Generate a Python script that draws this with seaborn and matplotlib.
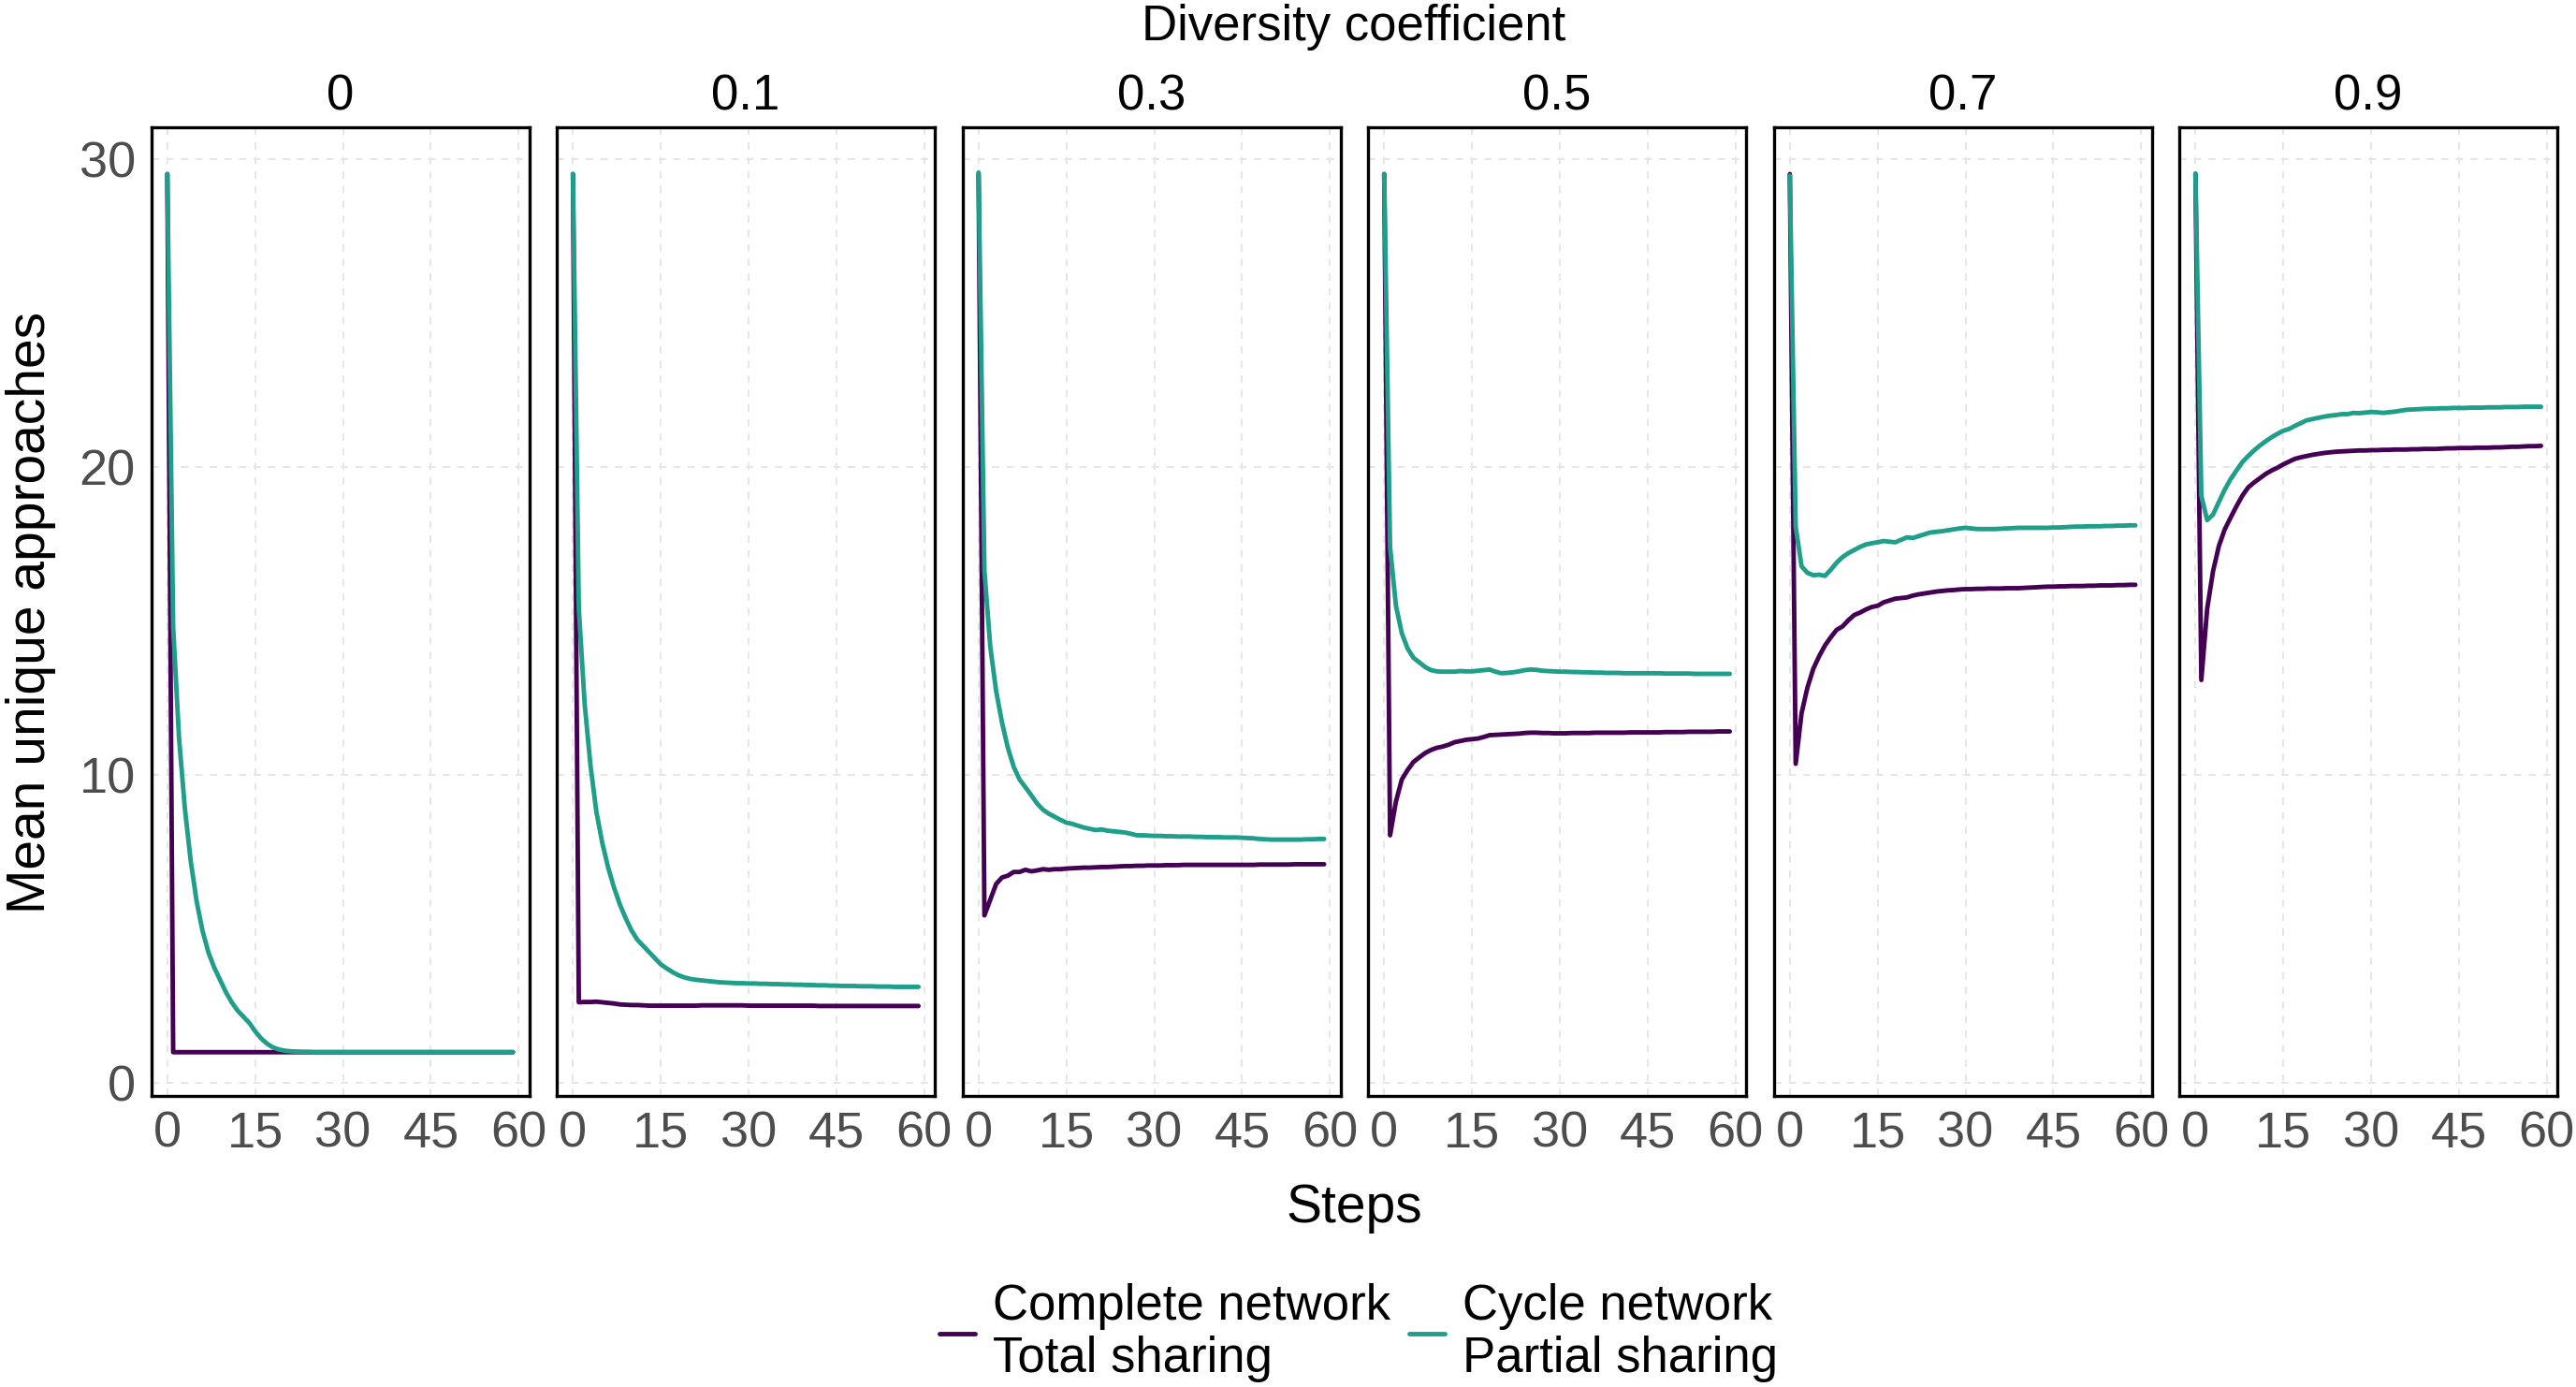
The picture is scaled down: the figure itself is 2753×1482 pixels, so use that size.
import matplotlib
matplotlib.use("Agg")
import matplotlib.pyplot as plt
import pandas as pd
import seaborn as sns
from matplotlib.lines import Line2D

# values, one per step (0..59)
steps = list(range(60))
diversity = ["0", "0.1", "0.3", "0.5", "0.7", "0.9"]
networks = ["Complete network\nTotal sharing", "Cycle network\nPartial sharing"]
colors = ["#440154", "#1F9E89"]

complete_0 = [29.5, 1.0, 1.0, 1.0, 1.0, 1.0, 1.0, 1.0, 1.0, 1.0,
              1.0, 1.0, 1.0, 1.0, 1.0, 1.0, 1.0, 1.0, 1.0, 1.0,
              1.0, 1.0, 1.0, 1.0, 1.0, 1.0, 1.0, 1.0, 1.0, 1.0,
              1.0, 1.0, 1.0, 1.0, 1.0, 1.0, 1.0, 1.0, 1.0, 1.0,
              1.0, 1.0, 1.0, 1.0, 1.0, 1.0, 1.0, 1.0, 1.0, 1.0,
              1.0, 1.0, 1.0, 1.0, 1.0, 1.0, 1.0, 1.0, 1.0, 1.0]
cycle_0 = [29.5, 14.8, 11.2, 8.9, 7.2, 5.9, 4.95, 4.25, 3.75, 3.35,
           2.95, 2.62, 2.35, 2.15, 1.95, 1.68, 1.45, 1.28, 1.16, 1.09,
           1.05, 1.03, 1.02, 1.01, 1.01, 1.0, 1.0, 1.0, 1.0, 1.0,
           1.0, 1.0, 1.0, 1.0, 1.0, 1.0, 1.0, 1.0, 1.0, 1.0,
           1.0, 1.0, 1.0, 1.0, 1.0, 1.0, 1.0, 1.0, 1.0, 1.0,
           1.0, 1.0, 1.0, 1.0, 1.0, 1.0, 1.0, 1.0, 1.0, 1.0]

complete_01 = [29.5, 2.62, 2.63, 2.63, 2.64, 2.62, 2.6, 2.58, 2.55, 2.54,
               2.53, 2.53, 2.52, 2.51, 2.51, 2.51, 2.51, 2.51, 2.51, 2.51,
               2.51, 2.51, 2.52, 2.52, 2.52, 2.52, 2.52, 2.52, 2.52, 2.52,
               2.51, 2.51, 2.51, 2.51, 2.51, 2.51, 2.51, 2.51, 2.51, 2.51,
               2.51, 2.51, 2.5, 2.5, 2.5, 2.5, 2.5, 2.5, 2.5, 2.5,
               2.5, 2.5, 2.5, 2.5, 2.5, 2.5, 2.5, 2.5, 2.5, 2.5]
cycle_01 = [29.5, 15.4, 12.3, 10.3, 8.8, 7.8, 7.0, 6.35, 5.8, 5.35,
            4.95, 4.65, 4.45, 4.25, 4.05, 3.85, 3.72, 3.6, 3.5, 3.43,
            3.38, 3.35, 3.33, 3.31, 3.29, 3.27, 3.26, 3.25, 3.24, 3.24,
            3.23, 3.23, 3.22, 3.22, 3.21, 3.21, 3.2, 3.2, 3.19, 3.19,
            3.18, 3.18, 3.17, 3.17, 3.16, 3.16, 3.15, 3.15, 3.15, 3.14,
            3.14, 3.14, 3.13, 3.13, 3.13, 3.12, 3.12, 3.12, 3.12, 3.12]

complete_03 = [29.5, 5.44, 5.95, 6.46, 6.67, 6.73, 6.85, 6.85, 6.92, 6.87,
               6.9, 6.94, 6.92, 6.94, 6.94, 6.96, 6.97, 6.98, 6.99, 6.99,
               7.0, 7.01, 7.01, 7.02, 7.03, 7.04, 7.04, 7.05, 7.05, 7.06,
               7.06, 7.06, 7.07, 7.07, 7.07, 7.08, 7.08, 7.08, 7.08, 7.08,
               7.08, 7.08, 7.08, 7.08, 7.08, 7.08, 7.08, 7.08, 7.09, 7.09,
               7.09, 7.09, 7.09, 7.09, 7.1, 7.1, 7.1, 7.1, 7.1, 7.1]
cycle_03 = [29.55, 16.62, 14.16, 12.72, 11.7, 10.88, 10.26, 9.85, 9.6, 9.34,
            9.07, 8.87, 8.74, 8.64, 8.54, 8.45, 8.41, 8.35, 8.29, 8.25,
            8.21, 8.23, 8.19, 8.17, 8.15, 8.13, 8.09, 8.04, 8.04, 8.03,
            8.02, 8.02, 8.01, 8.01, 8.0, 8.0, 8.0, 7.99, 7.99, 7.98,
            7.98, 7.98, 7.97, 7.97, 7.97, 7.96, 7.95, 7.94, 7.92, 7.91,
            7.9, 7.9, 7.9, 7.9, 7.9, 7.9, 7.91, 7.91, 7.92, 7.92]

complete_05 = [29.5, 8.04, 9.13, 9.85, 10.16, 10.42, 10.57, 10.71, 10.81, 10.88,
               10.92, 10.98, 11.06, 11.1, 11.14, 11.16, 11.18, 11.23, 11.29, 11.3,
               11.31, 11.32, 11.33, 11.34, 11.36, 11.37, 11.37, 11.36, 11.36, 11.35,
               11.35, 11.35, 11.36, 11.36, 11.36, 11.36, 11.37, 11.37, 11.37, 11.37,
               11.37, 11.37, 11.38, 11.38, 11.38, 11.38, 11.38, 11.38, 11.39, 11.39,
               11.39, 11.39, 11.4, 11.4, 11.4, 11.4, 11.4, 11.41, 11.41, 11.41]
cycle_05 = [29.5, 17.4, 15.5, 14.6, 14.1, 13.8, 13.65, 13.5, 13.4, 13.36,
            13.35, 13.35, 13.35, 13.37, 13.36, 13.36, 13.38, 13.4, 13.42, 13.35,
            13.3, 13.31, 13.33, 13.36, 13.4, 13.42, 13.41, 13.38, 13.37, 13.36,
            13.35, 13.35, 13.34, 13.34, 13.33, 13.33, 13.32, 13.32, 13.31, 13.31,
            13.31, 13.3, 13.3, 13.3, 13.3, 13.3, 13.3, 13.3, 13.29, 13.29,
            13.29, 13.29, 13.29, 13.28, 13.28, 13.28, 13.28, 13.28, 13.28, 13.28]

complete_07 = [29.5, 10.36, 12.0, 12.83, 13.44, 13.85, 14.2, 14.47, 14.71, 14.82,
               15.02, 15.19, 15.27, 15.37, 15.45, 15.49, 15.6, 15.66, 15.72, 15.74,
               15.76, 15.82, 15.86, 15.89, 15.92, 15.95, 15.97, 15.99, 16.0, 16.02,
               16.03, 16.03, 16.04, 16.04, 16.05, 16.05, 16.05, 16.06, 16.06, 16.06,
               16.07, 16.08, 16.09, 16.1, 16.11, 16.11, 16.12, 16.12, 16.13, 16.13,
               16.13, 16.14, 16.14, 16.15, 16.15, 16.15, 16.16, 16.16, 16.17, 16.17]
cycle_07 = [29.45, 18.06, 16.77, 16.56, 16.48, 16.5, 16.46, 16.66, 16.89, 17.07,
            17.2, 17.3, 17.4, 17.48, 17.52, 17.55, 17.59, 17.57, 17.55, 17.63,
            17.71, 17.69, 17.75, 17.81, 17.87, 17.89, 17.91, 17.94, 17.97, 18.0,
            18.02, 18.0, 17.98, 17.98, 17.98, 17.98, 17.99, 18.0, 18.01, 18.02,
            18.02, 18.02, 18.02, 18.02, 18.02, 18.03, 18.03, 18.04, 18.05, 18.06,
            18.06, 18.07, 18.07, 18.07, 18.08, 18.08, 18.09, 18.09, 18.1, 18.1]

complete_09 = [29.5, 13.08, 15.39, 16.61, 17.43, 17.97, 18.35, 18.72, 19.06, 19.33,
               19.49, 19.63, 19.77, 19.88, 19.97, 20.08, 20.17, 20.26, 20.31, 20.35,
               20.39, 20.42, 20.45, 20.47, 20.49, 20.5, 20.51, 20.52, 20.53, 20.53,
               20.54, 20.54, 20.55, 20.55, 20.56, 20.56, 20.56, 20.57, 20.57, 20.58,
               20.58, 20.58, 20.59, 20.6, 20.6, 20.61, 20.61, 20.61, 20.62, 20.62,
               20.62, 20.63, 20.63, 20.64, 20.65, 20.65, 20.66, 20.67, 20.67, 20.68]
cycle_09 = [29.52, 19.06, 18.27, 18.45, 18.86, 19.26, 19.6, 19.88, 20.15, 20.35,
            20.53, 20.69, 20.83, 20.96, 21.07, 21.17, 21.23, 21.33, 21.42, 21.51,
            21.55, 21.59, 21.63, 21.66, 21.68, 21.71, 21.71, 21.75, 21.74, 21.76,
            21.78, 21.77, 21.75, 21.77, 21.79, 21.82, 21.85, 21.86, 21.87, 21.88,
            21.89, 21.89, 21.9, 21.9, 21.91, 21.91, 21.91, 21.92, 21.92, 21.92,
            21.93, 21.93, 21.93, 21.94, 21.94, 21.94, 21.95, 21.95, 21.95, 21.95]

complete = [complete_0, complete_01, complete_03, complete_05, complete_07, complete_09]
cycle = [cycle_0, cycle_01, cycle_03, cycle_05, cycle_07, cycle_09]

rows = []
for d, comp, cyc in zip(diversity, complete, cycle):
    for s, v in zip(steps, comp):
        rows.append({"diversity": d, "step": s, "value": v, "network": networks[0]})
    for s, v in zip(steps, cyc):
        rows.append({"diversity": d, "step": s, "value": v, "network": networks[1]})
df = pd.DataFrame(rows)

sns.set_theme(style="white")
plt.rcParams["font.family"] = ["Liberation Sans", "DejaVu Sans"]

W, H = 2753, 1482
fig = plt.figure(figsize=(W / 100, H / 100), dpi=100)

left0, pw, step_px = 161.6, 404.0, 433.5
top_px, bot_px = 136.0, 1171.0
palette = dict(zip(networks, colors))

for i, d in enumerate(diversity):
    x0 = left0 + i * step_px
    ax = fig.add_axes([x0 / W, 1 - bot_px / H, pw / W, (bot_px - top_px) / H])
    sub = df[df["diversity"] == d]
    sns.lineplot(data=sub, x="step", y="value", hue="network", hue_order=networks,
                 palette=palette, linewidth=3.5, legend=False, ax=ax)
    ax.set_xlim(-2.75, 61.8)
    ax.set_ylim(-0.42, 31.02)
    ax.set_xticks([0, 15, 30, 45, 60])
    ax.set_yticks([0, 10, 20, 30])
    ax.grid(True, which="major", linestyle=(0, (4, 4)), color="#E6E6E6", linewidth=1.4)
    ax.set_axisbelow(True)
    ax.tick_params(axis="both", length=0, labelsize=39, labelcolor="#4D4D4D")
    ax.tick_params(axis="x", pad=11)
    ax.tick_params(axis="y", pad=12)
    if i > 0:
        ax.set_yticklabels([])
    ax.set_xlabel("")
    ax.set_ylabel("")
    for sp in ax.spines.values():
        sp.set_visible(True)
        sp.set_color("black")
        sp.set_linewidth(2.4)
    fig.text((x0 + pw / 2) / W, 1 - 117 / H, d, ha="center", va="baseline",
             fontsize=38, color="black")

fig.text(1447 / W, 1 - 43 / H, "Diversity coefficient", ha="center", va="baseline",
         fontsize=38, color="black")
fig.text(1447 / W, 1 - 1306 / H, "Steps", ha="center", va="baseline",
         fontsize=41, color="black")
fig.text(48 / W, 1 - 654 / H, "Mean unique approaches", rotation=90, rotation_mode="anchor",
         ha="center", va="baseline", fontsize=41, color="black")

handles = [Line2D([0], [0], color=c, linewidth=3.5) for c in colors]
leg = fig.legend(handles, networks, loc="center", bbox_to_anchor=(1452 / W, 1 - 1424 / H),
                 ncol=2, frameon=False, fontsize=38, handlelength=0.72,
                 handletextpad=0.36, columnspacing=0.38, borderpad=0, borderaxespad=0)
for t in leg.get_texts():
    t.set_linespacing(1.17)
    t.set_color("black")

fig.savefig("out.png", dpi=100, facecolor="white")
